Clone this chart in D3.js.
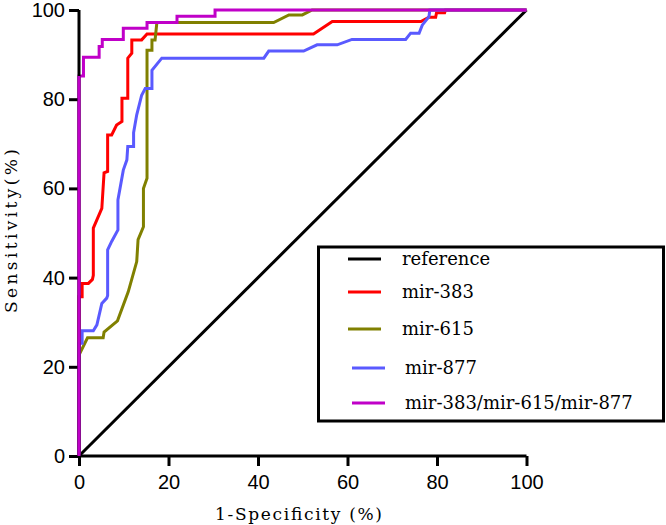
<!DOCTYPE html>
<html><head><meta charset="utf-8">
<script src="https://cdn.jsdelivr.net/npm/d3@7/dist/d3.min.js"></script>
<style>body{margin:0;background:#fff;} svg{display:block;}</style>
</head><body>
<script>
// ---- data (1-Specificity %, Sensitivity %) ----
const seriesNames = ["reference", "mir-383", "mir-615", "mir-877", "mir-383/mir-615/mir-877"];
const seriesColors = ["#000000", "#ff0000", "#808000", "#5a5aff", "#c000c8"];
const referenceX = [0, 100];
const referenceY = [0, 100];
const mir383X = [0, 0, 0.7, 0.7, 2.1, 3.0, 3.2, 3.2, 5.1, 5.6, 6.4, 6.4, 7.3, 8.4, 9.6, 9.6, 10.9, 10.9, 11.8, 11.8, 14.0, 15.2, 52.4, 56.6, 76.4, 78.2, 79.7, 79.9, 81.7, 81.9, 100];
const mir383Y = [0, 35.7, 35.7, 38.7, 38.7, 39.6, 40.5, 51.1, 55.5, 63.5, 63.8, 72.0, 72.0, 74.2, 75.0, 80.2, 80.2, 89.2, 90.3, 93.3, 93.3, 94.6, 94.6, 97.4, 97.4, 98.4, 98.4, 99.4, 99.4, 100, 100];
const mir615X = [0, 0, 1.9, 5.4, 5.6, 8.6, 11.0, 12.9, 13.2, 14.4, 14.4, 15.2, 15.2, 16.3, 16.3, 17.0, 17.4, 43.5, 46.9, 49.9, 52.1, 100];
const mir615Y = [0, 22.6, 26.5, 26.5, 27.8, 30.3, 36.8, 43.6, 48.5, 51.4, 60.0, 62.3, 91.0, 91.0, 93.3, 93.3, 97.2, 97.2, 98.9, 98.9, 100, 100];
const mir877X = [0, 0, 0.7, 0.7, 3.2, 4.0, 5.1, 6.2, 6.4, 6.4, 7.3, 8.7, 8.7, 9.9, 10.7, 10.9, 12.2, 12.2, 12.9, 14.0, 14.8, 16.3, 16.3, 18.5, 41.3, 42.4, 50.2, 53.2, 57.7, 61.0, 73.0, 74.1, 76.0, 76.7, 78.2, 78.4, 100];
const mir877Y = [0, 25.3, 25.3, 28.1, 28.1, 29.4, 34.2, 35.4, 36.0, 46.2, 48.1, 50.7, 57.4, 64.1, 66.4, 69.4, 69.4, 72.5, 76.5, 80.9, 82.4, 82.4, 86.5, 89.2, 89.2, 90.8, 90.8, 92.2, 92.2, 93.4, 93.4, 94.8, 94.8, 96.6, 98.5, 100, 100];
const comboX = [0, 0, 1.0, 1.0, 4.5, 4.5, 5.2, 5.2, 9.9, 9.9, 15.2, 15.2, 21.9, 21.9, 30.4, 30.4, 100];
const comboY = [0, 85.2, 85.2, 89.4, 89.4, 91.8, 91.8, 93.4, 93.4, 95.9, 95.9, 97.2, 97.2, 98.6, 98.6, 100, 100];
const xTicks = [0, 20, 40, 60, 80, 100];
const yTicks = [0, 20, 40, 60, 80, 100];
const xTitle = "1-Specificity (%)";
const yTitle = "Sensitivity(%)";

const seriesX = [referenceX, mir383X, mir615X, mir877X, comboX];
const seriesY = [referenceY, mir383Y, mir615Y, mir877Y, comboY];

const W = 666, H = 525;
const svg = d3.select("body").append("svg").attr("width", W).attr("height", H);

const x = d3.scaleLinear().domain([0, 100]).range([79, 526.5]);
const y = d3.scaleLinear().domain([0, 100]).range([456, 10]);

const line = d3.line().x(d => x(d[0])).y(d => y(d[1])).curve(d3.curveLinear);

// curves
seriesNames.forEach((n, i) => {
  const pts = seriesX[i].map((v, j) => [v, seriesY[i][j]]);
  svg.append("path").datum(pts).attr("d", line)
    .attr("fill", "none").attr("stroke", seriesColors[i])
    .attr("stroke-width", 3).attr("stroke-linejoin", "miter");
});

// axes
const xAxis = svg.append("g").attr("transform", `translate(0,${y(0)})`)
  .call(d3.axisBottom(x).tickValues(xTicks).tickSize(10).tickPadding(9).tickFormat(d3.format("d")));
const yAxis = svg.append("g").attr("transform", `translate(${x(0)},0)`)
  .call(d3.axisLeft(y).tickValues(yTicks).tickSize(10).tickPadding(4).tickFormat(d3.format("d")));
[xAxis, yAxis].forEach(g => {
  g.select(".domain").attr("stroke", "#000").attr("stroke-width", 3).attr("d",
    g === xAxis ? `M${x(0)},0H${x(100)}` : `M0,${y(0)}V${y(100)}`);
  g.selectAll(".tick line").attr("stroke", "#000").attr("stroke-width", 3);
  g.selectAll(".tick text").attr("font-family", "Liberation Sans, Arial, sans-serif")
    .attr("font-size", 20).attr("fill", "#000");
});
// combo line drawn over the y axis at x=0 (as in reference)
{
  const i = 4;
  const pts = seriesX[i].map((v, j) => [v, seriesY[i][j]]);
  svg.append("path").datum(pts.slice(0, 2)).attr("d", line)
    .attr("fill", "none").attr("stroke", seriesColors[i]).attr("stroke-width", 3);
}

// axis titles
svg.append("text").attr("x", 215).attr("y", 520)
  .attr("textLength", 167).attr("lengthAdjust", "spacing")
  .attr("font-family", "DejaVu Serif, serif").attr("font-size", 17).text(xTitle);
svg.append("text").attr("transform", "translate(17,313) rotate(-90)")
  .attr("textLength", 164).attr("lengthAdjust", "spacing")
  .attr("font-family", "DejaVu Serif, serif").attr("font-size", 17).text(yTitle);

// legend
const lg = svg.append("g");
lg.append("rect").attr("x", 318.5).attr("y", 247).attr("width", 345).attr("height", 174)
  .attr("fill", "#fff").attr("stroke", "#000").attr("stroke-width", 3);
const legY = [259, 292, 329, 368, 403];
const legX0 = [348, 348, 348, 352, 352];
const txtX = [402, 402, 402, 405, 405];
seriesNames.forEach((n, i) => {
  lg.append("line").attr("x1", legX0[i]).attr("x2", legX0[i] + 33).attr("y1", legY[i]).attr("y2", legY[i])
    .attr("stroke", seriesColors[i]).attr("stroke-width", 3);
  lg.append("text").attr("x", txtX[i]).attr("y", legY[i] + 6)
    .attr("font-family", "DejaVu Serif, serif").attr("font-size", 18).text(n);
});
</script>
</body></html>
